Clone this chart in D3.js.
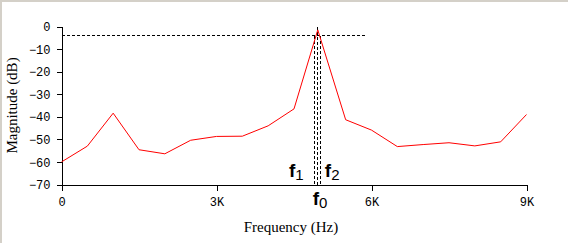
<!DOCTYPE html>
<html>
<head>
<meta charset="utf-8">
<script src="https://cdn.jsdelivr.net/npm/d3@7"></script>
<style>
  body { margin: 0; background: #fff; }
  svg { display: block; }
</style>
</head>
<body>
<div id="chart"></div>
<script>
var freqs = [0, 500, 1000, 1500, 2000, 2500, 3000, 3500, 4000, 4500, 4960, 5500, 6000, 6500, 7000, 7500, 8000, 8500, 9000];
var mags = [-60, -53, -38.4, -54.6, -56.4, -50.4, -48.7, -48.6, -44, -36.5, -1.5, -41.3, -45.9, -53.2, -52.3, -51.5, -52.9, -51.1, -39];
var yTicks = [0, -10, -20, -30, -40, -50, -60, -70];
var xTicks = [0, 3000, 6000, 9000];
var xTickLabels = ["0", "3K", "6K", "9K"];
var halfPower = -4;
var halfEnd = 5910;
var f0 = 4960, f1 = 4900, f2 = 5020;

var width = 568, height = 243;

var svg = d3.select("#chart").append("svg").attr("width", width).attr("height", height);

// window frame
svg.append("rect").attr("x", 0).attr("y", 0).attr("width", width).attr("height", 2).attr("fill", "#d4d0c8");
svg.append("rect").attr("x", 0).attr("y", 0).attr("width", 2).attr("height", height).attr("fill", "#d4d0c8");

var x = d3.scaleLinear().domain([0, 9000]).range([61.5, 526.5]);
var y = d3.scaleLinear().domain([-70, 0]).range([184.5, 26.5]);

var xAxis = d3.axisBottom(x).tickValues(xTicks).tickSize(6).tickSizeOuter(0)
  .tickFormat(function(d, i) { return xTickLabels[i]; });
var yAxis = d3.axisLeft(y).tickValues(yTicks).tickSize(5).tickSizeOuter(0)
  .tickFormat(function(d) { return d === 0 ? "0" : "\u2212" + Math.abs(d); });

var gx = svg.append("g").attr("transform", "translate(0," + y(-70) + ")").call(xAxis);
var gy = svg.append("g").attr("transform", "translate(" + x(0) + ",0)").call(yAxis);

[gx, gy].forEach(function(g) {
  g.selectAll("path, line").attr("stroke", "#000").attr("shape-rendering", "crispEdges");
  g.selectAll("text").attr("font-family", "Liberation Mono, Courier New, monospace")
    .attr("font-size", 12).attr("fill", "#000");
});
gx.selectAll("text").attr("dy", "1em").attr("y", 9);
gy.selectAll("text").attr("x", -11).attr("dy", "0.35em");

// dashed reference lines
var dash = "3,2";
svg.append("line").attr("x1", x(0)).attr("x2", x(halfEnd)).attr("y1", y(halfPower)).attr("y2", y(halfPower))
  .attr("stroke", "#000").attr("stroke-dasharray", dash).attr("shape-rendering", "crispEdges");
svg.append("line").attr("x1", x(f0)).attr("x2", x(f0)).attr("y1", y(0)).attr("y2", y(-70))
  .attr("stroke", "#000").attr("stroke-dasharray", dash).attr("shape-rendering", "crispEdges");
[f1, f2].forEach(function(f) {
  svg.append("line").attr("x1", x(f)).attr("x2", x(f)).attr("y1", y(halfPower)).attr("y2", y(-70))
    .attr("stroke", "#000").attr("stroke-dasharray", dash).attr("shape-rendering", "crispEdges");
});

// response curve
var data = freqs.map(function(f, i) { return [f, mags[i]]; });
var line = d3.line().x(function(d) { return x(d[0]); }).y(function(d) { return y(d[1]); });
svg.append("path").datum(data).attr("d", line).attr("fill", "none").attr("stroke", "#ff0000").attr("stroke-width", 1);

// f labels
function fLabel(tx, ty, sub, anchor) {
  var t = svg.append("text").attr("x", tx).attr("y", ty).attr("text-anchor", anchor)
    .attr("font-family", "Liberation Sans, Arial, sans-serif").attr("font-size", 19).attr("fill", "#000");
  t.append("tspan").attr("font-weight", "bold").text("f");
  t.append("tspan").attr("font-size", 15).attr("dy", 3).text(sub);
}
fLabel(x(f1) - 11, 177, "1", "end");
fLabel(x(f2) + 4, 177, "2", "start");
fLabel(x(f0) - 5, 205, "0", "start");

// axis titles
svg.append("text").attr("x", 291).attr("y", 232).attr("text-anchor", "middle")
  .attr("font-family", "Liberation Serif, Times New Roman, serif").attr("font-size", 15).text("Frequency (Hz)");
svg.append("text").attr("transform", "translate(17," + ((y(0) + y(-70)) / 2) + ") rotate(-90)")
  .attr("text-anchor", "middle")
  .attr("font-family", "Liberation Serif, Times New Roman, serif").attr("font-size", 15).text("Magnitude (dB)");
</script>
</body>
</html>
